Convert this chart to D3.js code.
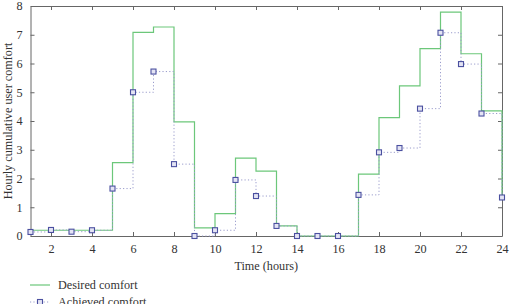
<!DOCTYPE html>
<html>
<head>
<meta charset="utf-8">
<script src="https://cdn.jsdelivr.net/npm/d3@7"></script>
<style>
  body { margin: 0; background: #fff; }
  text { font-family: "Liberation Serif", "DejaVu Serif", serif; fill: #333; }
</style>
</head>
<body>
<svg id="chart" width="510" height="304"></svg>
<script>
var hours = d3.range(1, 25);
var desired = [0.2, 0.2, 0.2, 0.2, 2.55, 7.08, 7.27, 3.97, 0.28, 0.78, 2.71, 2.26,
  0.35, 0, 0, 0, 2.15, 4.12, 5.22, 6.52, 7.79, 6.34, 4.35, 1.34];
var achieved = [0.14, 0.21, 0.15, 0.2, 1.65, 5.0, 5.72, 2.5, 0, 0.2, 1.95, 1.39,
  0.35, 0, 0, 0, 1.43, 2.91, 3.06, 4.43, 7.07, 5.98, 4.26, 1.34];
var xTicks = [2, 4, 6, 8, 10, 12, 14, 16, 18, 20, 22, 24];
var yTicks = [0, 1, 2, 3, 4, 5, 6, 7, 8];

var svg = d3.select("#chart"),
  margin = { top: 6, right: 8, bottom: 68, left: 30.5 },
  width = +svg.attr("width"),
  height = +svg.attr("height");

var fs = 12.2;

var x = d3.scaleLinear().domain([1, 24]).range([margin.left, width - margin.right]);
var y = d3.scaleLinear().domain([0, 8]).range([height - margin.bottom, margin.top]);

var axisColor = "#666";

// axes (box style, ticks pointing inward)
svg.append("g")
  .attr("transform", "translate(0," + y(0) + ")")
  .call(d3.axisBottom(x).tickValues(xTicks).tickSizeInner(-4).tickSizeOuter(0).tickPadding(8))
  .call((g) => g.selectAll("text").attr("font-size", fs));
svg.append("g")
  .attr("transform", "translate(0," + y(8) + ")")
  .call(d3.axisTop(x).tickValues(xTicks).tickSizeInner(-4).tickSizeOuter(0).tickFormat(""));
svg.append("g")
  .attr("transform", "translate(" + x(1) + ",0)")
  .call(d3.axisLeft(y).tickValues(yTicks).tickSizeInner(-4).tickSizeOuter(0).tickPadding(8))
  .call((g) => g.selectAll("text").attr("font-size", fs));
svg.append("g")
  .attr("transform", "translate(" + x(24) + ",0)")
  .call(d3.axisRight(y).tickValues(yTicks).tickSizeInner(-4).tickSizeOuter(0).tickFormat(""));

svg.selectAll(".domain, .tick line").attr("stroke", axisColor);

svg.append("text")
  .attr("x", (x(1) + x(24)) / 2)
  .attr("y", 270)
  .attr("text-anchor", "middle")
  .attr("font-size", fs)
  .text("Time (hours)");

svg.append("text")
  .attr("transform", "translate(12," + y(4) + ") rotate(-90)")
  .attr("text-anchor", "middle")
  .attr("font-size", fs)
  .text("Hourly cumulative user comfort");

var stairs = d3.line()
  .curve(d3.curveStepAfter)
  .x((d) => x(d.h))
  .y((d) => y(d.v));

var desiredData = hours.map((h, i) => ({ h: h, v: desired[i] }));
var achievedData = hours.map((h, i) => ({ h: h, v: achieved[i] }));

svg.append("path")
  .attr("d", stairs(desiredData))
  .attr("fill", "none")
  .attr("stroke", "#6cc77a")
  .attr("stroke-width", 1.2);

svg.append("path")
  .attr("d", stairs(achievedData))
  .attr("fill", "none")
  .attr("stroke", "#9a9ccc")
  .attr("stroke-width", 1)
  .attr("stroke-dasharray", "1.2,2.2");

svg.selectAll(".mark")
  .data(achievedData)
  .enter()
  .append("rect")
  .attr("class", "mark")
  .attr("x", (d) => x(d.h) - 2.5)
  .attr("y", (d) => y(d.v) - 2.5)
  .attr("width", 5)
  .attr("height", 5)
  .attr("fill", "#e4e4f4")
  .attr("stroke", "#4b50a0")
  .attr("stroke-width", 1.1);

// legend
var legend = svg.append("g");
legend.append("line")
  .attr("x1", 30).attr("x2", 50).attr("y1", 285).attr("y2", 285)
  .attr("stroke", "#6cc77a").attr("stroke-width", 1.2);
legend.append("text")
  .attr("x", 58).attr("y", 289).attr("font-size", fs)
  .text("Desired comfort");
legend.append("line")
  .attr("x1", 30).attr("x2", 50).attr("y1", 302).attr("y2", 302)
  .attr("stroke", "#9a9ccc").attr("stroke-dasharray", "1.2,2.2");
legend.append("rect")
  .attr("x", 37.5).attr("y", 299.5).attr("width", 5).attr("height", 5)
  .attr("fill", "#e4e4f4").attr("stroke", "#4b50a0").attr("stroke-width", 1.1);
legend.append("text")
  .attr("x", 58).attr("y", 306).attr("font-size", fs)
  .text("Achieved comfort");
</script>
</body>
</html>
